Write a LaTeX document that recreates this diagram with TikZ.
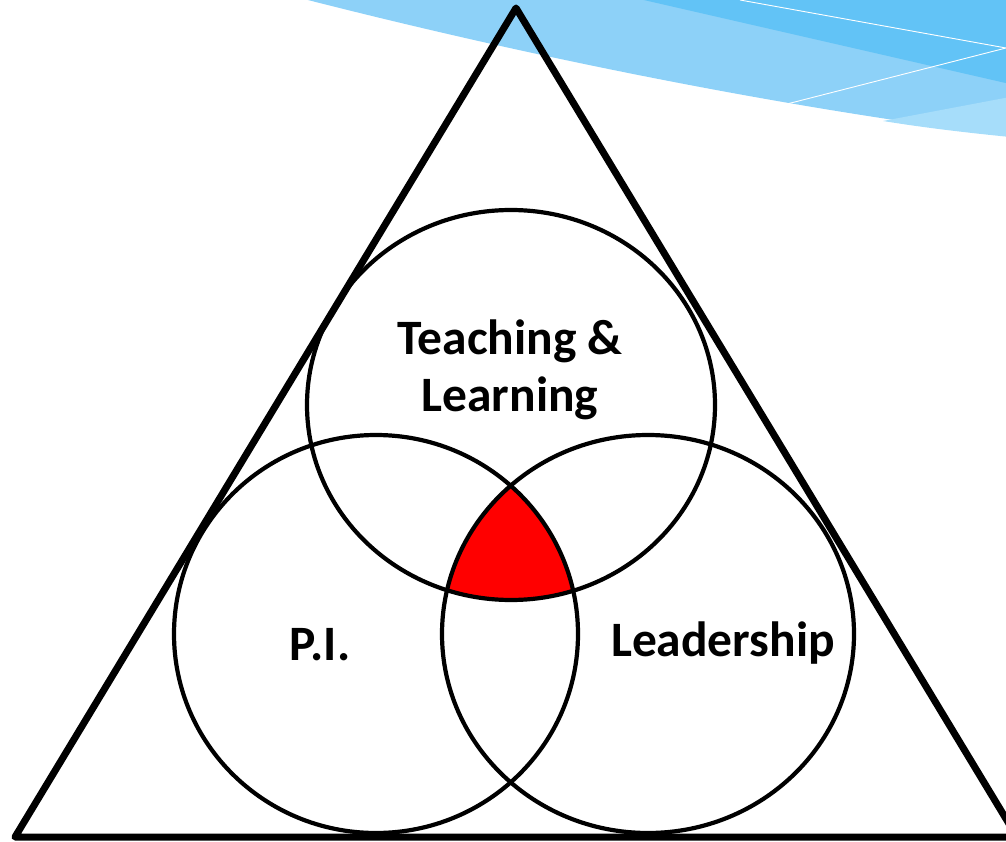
\documentclass[tikz,border=0pt]{standalone}
\usepackage{fontspec}
\setmainfont{Carlito}
\begin{document}
\begin{tikzpicture}[x=1pt,y=-1pt,
  ring/.style={draw=black,line width=4.2pt},
  label/.style={font=\fontsize{49.5}{57}\selectfont\bfseries,align=center,inner sep=0pt},
  tri/.style={draw=black,line width=7pt,line join=round}]
\useasboundingbox (0,0) rectangle (1006,842);
\begin{scope}
\clip (0,0) rectangle (1006,842);
% background swoosh
\fill[color={rgb,255:red,141;green,209;blue,248}] (300,-2) .. controls (550,62) and (800,110) .. (1010,136) -- (1010,-2) -- cycle;
\fill[color={rgb,255:red,166;green,221;blue,250}] (883,121) -- (1010,97) -- (1010,137) .. controls (960,132) and (920,127) .. (883,121) -- cycle;
\fill[color={rgb,255:red,98;green,195;blue,246}] (635,-2) -- (1010,84) -- (1010,-2) -- cycle;
\draw[white,line width=0.9pt] (740,0) -- (1006,48) -- (783,105);
% circles
\coordinate (ct) at (511,405);
\coordinate (cl) at (376,634);
\coordinate (cr) at (648,634);
\begin{scope}
\clip (ct) ellipse [x radius=204, y radius=195];
\clip (cl) ellipse [x radius=202, y radius=199];
\fill[red] (cr) ellipse [x radius=206, y radius=199];
\end{scope}
\draw[ring] (ct) ellipse [x radius=204, y radius=195];
\draw[ring] (cl) ellipse [x radius=202, y radius=199];
\draw[ring] (cr) ellipse [x radius=206, y radius=199];
% triangle
\coordinate (apex) at (516,8);
\coordinate (bl) at (15,837);
\coordinate (br) at (1017,837);
\draw[tri] (apex) -- (bl) -- (br) -- cycle;
\end{scope}
\node[label,anchor=base] (tl1) at (510,354) {Teaching \&};
\node[label,anchor=base] (tl2) at (510,411) {Learning};
\node[label,anchor=base] (pi) at (320,660) {P.I.};
\node[label,anchor=base] (ld) at (723,656) {Leadership};
\end{tikzpicture}
\end{document}
